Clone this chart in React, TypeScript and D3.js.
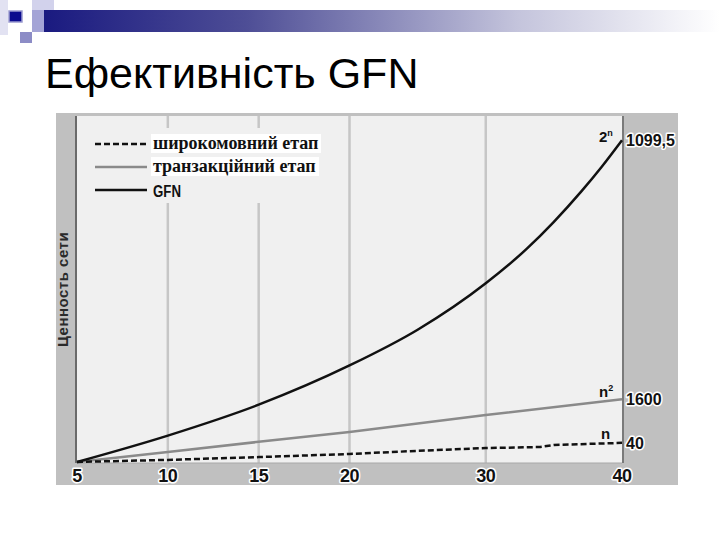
import React from 'react'
import * as d3 from 'd3'

// x = number of nodes n, y = relative network value (schematic, % of plot height)
const broadcastN = [5, 10, 15, 20, 25, 30, 34, 35, 40]
const broadcastV = [0.3, 0.9, 1.7, 2.6, 3.5, 4.3, 4.6, 5.2, 5.8]
const transactN = [5, 10, 15, 20, 30, 40]
const transactV = [0.3, 3.2, 6.1, 8.9, 13.8, 18.4]
const gfnN = [5, 10, 15, 20, 25, 30, 33, 35, 37, 38.5, 40]
const gfnV = [0.3, 7.9, 16.8, 28.1, 38.4, 51.8, 61.7, 69.5, 78.2, 85.3, 93.0]

const xTicks = [5, 10, 15, 20, 30, 40]
const gridN = [10, 15, 20, 30]
const seriesNames = ['широкомовний етап', 'транзакційний етап', 'GFN']
const endValues = ['40', '1600', '1099,5']
const title = 'Ефективність GFN'
const yTitle = 'Ценность сети'

const W = 720
const H = 540
const frame = { left: 56, top: 113, right: 678, bottom: 485 }
const plot = { left: 77, top: 116, right: 622, bottom: 463 }

const sans = '"Liberation Sans", Arial, sans-serif'
const serif = '"Liberation Serif", "Times New Roman", serif'

export default function App() {
  const x = d3
    .scaleLinear()
    .domain([5, 20, 40])
    .range([plot.left, (plot.left + plot.right) / 2, plot.right])
  const y = d3.scaleLinear().domain([0, 100]).range([plot.bottom, plot.top])

  const straight = d3
    .line<[number, number]>()
    .x(d => x(d[0]))
    .y(d => y(d[1]))
  const smooth = d3
    .line<[number, number]>()
    .x(d => x(d[0]))
    .y(d => y(d[1]))
    .curve(d3.curveMonotoneX)

  const zip = (a: number[], b: number[]) => a.map((v, i) => [v, b[i]] as [number, number])
  const broadcast = zip(broadcastN, broadcastV)
  const transact = zip(transactN, transactV)
  const gfn = zip(gfnN, gfnV)

  const halo = { stroke: '#fff', strokeWidth: 3, paintOrder: 'stroke' as const, strokeLinejoin: 'round' as const }

  const lastB = y(broadcastV[broadcastV.length - 1])
  const lastT = y(transactV[transactV.length - 1])
  const lastG = y(gfnV[gfnV.length - 1])
  const xEnd = x(40)

  return (
    <svg
      width={W}
      height={H}
      style={{ position: 'absolute', left: 0, top: 0, background: '#fff' }}
    >
      <defs>
        <linearGradient id="bar" x1="0" x2="1" y1="0" y2="0">
          <stop offset="0" stopColor="#1a1a80" />
          <stop offset="0.3" stopColor="#4e4e96" />
          <stop offset="0.7" stopColor="#c4c4dc" />
          <stop offset="1" stopColor="#ffffff" />
        </linearGradient>
      </defs>

      {/* slide decoration */}
      <rect x={44} y={10} width={676} height={22} fill="url(#bar)" />
      <rect x={0} y={0} width={8} height={35} fill="#e2e2f2" />
      <rect x={32} y={0} width={22} height={10} fill="#d2d2ec" />
      <rect x={32} y={10} width={12} height={22} fill="#a4a4d6" />
      <rect x={20} y={32} width={12} height={11} fill="#8c8cc6" />
      <rect x={9} y={11} width={13} height={11} fill="#0b0b8e" stroke="#9a9ad0" strokeWidth={1.5} />

      <text x={45} y={88} fontFamily={sans} fontSize={43} fill="#000">
        {title}
      </text>

      {/* chart frame */}
      <rect
        x={frame.left}
        y={frame.top}
        width={frame.right - frame.left}
        height={frame.bottom - frame.top}
        fill="#c0c0c0"
      />
      <rect
        x={plot.left}
        y={plot.top}
        width={plot.right - plot.left}
        height={plot.bottom - plot.top}
        fill="#f0f0f0"
      />

      {gridN.map(n => (
        <line
          key={n}
          x1={x(n)}
          x2={x(n)}
          y1={plot.top}
          y2={plot.bottom}
          stroke="#c6c6c6"
          strokeWidth={2.5}
        />
      ))}

      <line x1={plot.left - 1} x2={plot.left - 1} y1={plot.top} y2={plot.bottom} stroke="#6a6a6a" strokeWidth={2} />
      <line x1={plot.right + 1} x2={plot.right + 1} y1={plot.top} y2={plot.bottom} stroke="#7a7a7a" strokeWidth={2} />
      <line x1={plot.left} x2={plot.right} y1={plot.bottom} y2={plot.bottom} stroke="#a8a8a8" strokeWidth={1} />

      {/* legend */}
      <rect x={150} y={128} width={172} height={75} fill="#f0f0f0" />
      <rect x={151} y={134} width={170} height={19} fill="#fff" />
      <rect x={151} y={157} width={168} height={19} fill="#fff" />
      <line x1={95} x2={147} y1={144} y2={144} stroke="#111" strokeWidth={2.5} strokeDasharray="6,3" />
      <line x1={95} x2={147} y1={167} y2={167} stroke="#8a8a8a" strokeWidth={2.5} />
      <line x1={95} x2={147} y1={190} y2={190} stroke="#111" strokeWidth={2.5} />
      <text x={153} y={149} fontFamily={serif} fontWeight="bold" fontSize={18} fill="#111">
        {seriesNames[0]}
      </text>
      <text x={153} y={172} fontFamily={serif} fontWeight="bold" fontSize={18} fill="#111">
        {seriesNames[1]}
      </text>
      <text
        x={153}
        y={197}
        fontFamily={sans}
        fontWeight="bold"
        fontSize={17}
        fill="#111"
        transform="translate(153,197) scale(0.78,1) translate(-153,-197)"
      >
        {seriesNames[2]}
      </text>

      {/* series */}
      <path d={straight(transact) || ''} fill="none" stroke="#8a8a8a" strokeWidth={2.5} />
      <path d={straight(broadcast) || ''} fill="none" stroke="#111" strokeWidth={2.5} strokeDasharray="6,3" />
      <path d={smooth(gfn) || ''} fill="none" stroke="#111" strokeWidth={2.5} />

      {/* end labels */}
      <g fontFamily={sans} fontWeight="bold" fill="#111">
        <text x={xEnd - 23} y={lastG + 2} fontSize={15}>
          2<tspan dy={-6} fontSize={9}>n</tspan>
        </text>
        <text x={xEnd - 23} y={lastT - 2} fontSize={15}>
          n<tspan dy={-6} fontSize={9}>2</tspan>
        </text>
        <text x={xEnd - 21} y={lastB - 4} fontSize={15}>
          n
        </text>
        <text x={xEnd + 4} y={lastG + 6} fontSize={16} {...halo}>
          {endValues[2]}
        </text>
        <text x={xEnd + 4} y={lastT + 6} fontSize={16} {...halo}>
          {endValues[1]}
        </text>
        <text x={xEnd + 4} y={lastB + 6} fontSize={16} {...halo}>
          {endValues[0]}
        </text>
      </g>

      {/* x tick labels */}
      <g fontFamily={sans} fontWeight="bold" fontSize={18} fill="#111" textAnchor="middle">
        {xTicks.map(t => (
          <text key={t} x={x(t)} y={482} letterSpacing={-0.5} {...halo}>
            {t}
          </text>
        ))}
      </g>

      {/* y title */}
      <text
        transform={`translate(68, ${(plot.top + plot.bottom) / 2}) rotate(-90)`}
        textAnchor="middle"
        fontFamily={sans}
        fontWeight="bold"
        fontSize={15}
        letterSpacing={0.5}
        fill="#2a2a2a"
      >
        {yTitle}
      </text>
    </svg>
  )
}
